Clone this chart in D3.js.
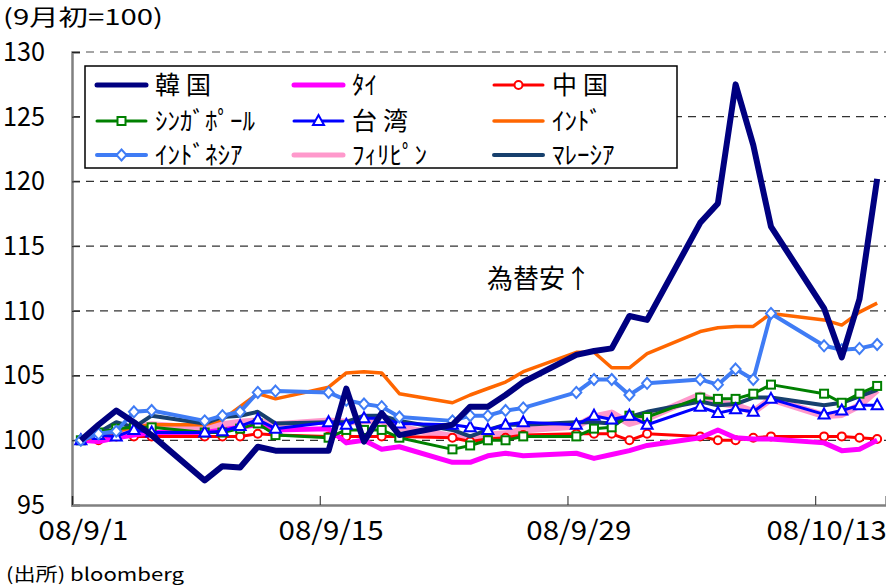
<!DOCTYPE html>
<html>
<head>
<meta charset="utf-8">
<script src="https://cdn.jsdelivr.net/npm/d3@7"></script>
<style>
  body { margin: 0; background: #fff; }
  svg { display: block; }
  text { font-family: "Noto Sans CJK JP", "DejaVu Sans", sans-serif; fill: #000; }
</style>
</head>
<body>
<svg id="chart" width="886" height="587"></svg>
<script>
// trading days, Sep 1 - Oct 16 2008
const dates = [
  "2008-09-01", "2008-09-02", "2008-09-03", "2008-09-04", "2008-09-05",
  "2008-09-08", "2008-09-09", "2008-09-10", "2008-09-11", "2008-09-12",
  "2008-09-15", "2008-09-16", "2008-09-17", "2008-09-18", "2008-09-19",
  "2008-09-22", "2008-09-23", "2008-09-24", "2008-09-25", "2008-09-26",
  "2008-09-29", "2008-09-30", "2008-10-01", "2008-10-02", "2008-10-03",
  "2008-10-06", "2008-10-07", "2008-10-08", "2008-10-09", "2008-10-10",
  "2008-10-13", "2008-10-14", "2008-10-15", "2008-10-16"
];

const korea = [100, 101.2, 102.3, 101.4, 100.4, 96.9, 98.0, 97.9, 99.5, 99.2,
  99.2, 104.0, 99.9, 102.1, 100.4, 101.2, 102.6, 102.6, 103.5, 104.5,
  106.6, 106.9, 107.1, 109.6, 109.3, 116.8, 118.3, 127.5, 122.8, 116.5,
  110.2, 106.4, 110.9, 120.2];
const thai = [100, 99.9, 100.2, 100.4, 100.6, 100.6, 100.8, 101.0, 101.2, 100.8,
  100.9, 99.8, 100.0, 99.3, 99.5, 98.3, 98.3, 98.8, 99.0, 98.8,
  99.0, 98.6, 98.9, 99.2, 99.6, 100.2, 100.8, 100.2, 100.1, 100.1,
  99.8, 99.2, 99.3, 100.0];
const china = [100, 100.0, 100.3, 100.3, 100.3, 100.3, 100.3, 100.3, 100.5, 100.4,
  100.3, 100.3, 100.3, 100.3, 100.3, 100.2, 99.9, 100.1, 100.2, 100.4,
  100.5, 100.5, 100.5, 100.0, 100.5, 100.3, 100.0, 100.0, 100.2, 100.3,
  100.3, 100.3, 100.2, 100.1];
const singapore = [100, 100.6, 100.9, 101.0, 101.0, 100.6, 100.6, 100.9, 101.3, 100.4,
  100.2, 100.8, 100.8, 100.8, 100.2, 99.3, 99.6, 100.0, 100.0, 100.3,
  100.3, 100.9, 101.0, 101.9, 101.8, 103.3, 103.2, 103.2, 103.6, 104.3,
  103.6, 102.9, 103.6, 104.2];
const taiwan = [100, 100.4, 100.3, 100.8, 100.6, 100.6, 100.7, 101.1, 101.6, 100.9,
  101.4, 101.2, 101.7, 101.7, 101.3, 101.2, 101.0, 100.8, 101.2, 101.4,
  101.2, 101.9, 101.6, 101.9, 101.2, 102.6, 102.1, 102.4, 102.2, 103.2,
  102.0, 102.3, 102.7, 102.7];
const india = [100, 100.3, 100.7, 101.0, 101.2, 101.2, 101.6, 102.6, 103.6, 103.2,
  104.1, 105.2, 105.3, 105.2, 103.6, 102.9, 103.5, 104.0, 104.5, 105.3,
  106.8, 106.8, 105.6, 105.6, 106.7, 108.4, 108.7, 108.8, 108.8, 109.8,
  109.3, 108.9, 109.9, 110.6];
const indonesia = [100, 100.5, 100.7, 102.2, 102.3, 101.5, 101.9, 102.2, 103.7, 103.8,
  103.7, 103.1, 102.8, 102.6, 101.8, 101.5, 101.9, 101.9, 102.3, 102.5,
  103.7, 104.7, 104.7, 103.5, 104.4, 104.7, 104.3, 105.5, 104.7, 109.8,
  107.3, 107.0, 107.1, 107.4];
const philippines = [100, 100.2, 100.6, 101.0, 101.2, 100.9, 101.2, 101.4, 101.5, 101.2,
  101.5, 101.4, 101.5, 101.5, 101.0, 100.3, 100.2, 100.4, 100.5, 100.8,
  101.1, 101.8, 102.1, 101.3, 101.7, 103.5, 102.9, 102.7, 102.2, 103.2,
  101.9, 102.0, 102.7, 103.9];
const malaysia = [100, 100.6, 101.4, 101.0, 101.9, 101.3, 101.8, 101.9, 102.2, 101.3,
  101.4, 101.4, 101.9, 101.9, 101.5, 100.8, 100.3, 100.8, 101.2, 101.2,
  101.4, 101.4, 101.3, 101.8, 102.2, 103.0, 102.7, 102.8, 103.3, 103.3,
  102.7, 102.9, 103.4, 103.9];

const yTicks = [95, 100, 105, 110, 115, 120, 125, 130];
const xTickDates = ["2008-09-01", "2008-09-15", "2008-09-29", "2008-10-13"];
const xTickLabels = ["08/9/1", "08/9/15", "08/9/29", "08/10/13"];

// legend order (row by row, as in the reference)
const series = [
  { name: "韓国", values: korea, color: "#000080", width: 6, marker: null },
  { name: "ﾀｲ", values: thai, color: "#ff00ff", width: 5, marker: null },
  { name: "中国", values: china, color: "#ff0000", width: 3, marker: "circle" },
  { name: "ｼﾝｶﾞﾎﾟｰﾙ", values: singapore, color: "#008000", width: 3, marker: "square" },
  { name: "台湾", values: taiwan, color: "#0000ff", width: 3, marker: "triangle" },
  { name: "ｲﾝﾄﾞ", values: india, color: "#ff6600", width: 3.5, marker: null },
  { name: "ｲﾝﾄﾞﾈｼｱ", values: indonesia, color: "#3f7cf5", width: 4, marker: "diamond" },
  { name: "ﾌｨﾘﾋﾟﾝ", values: philippines, color: "#ff99cc", width: 7, marker: null },
  { name: "ﾏﾚｰｼｱ", values: malaysia, color: "#17406d", width: 4, marker: null }
];
// drawing order, bottom to top
const drawOrder = ["ﾌｨﾘﾋﾟﾝ", "中国", "ﾀｲ", "ｲﾝﾄﾞ", "ﾏﾚｰｼｱ", "ｼﾝｶﾞﾎﾟｰﾙ", "台湾", "ｲﾝﾄﾞﾈｼｱ", "韓国"];

const parse = d3.utcParse("%Y-%m-%d");
const svg = d3.select("#chart");

const plotLeft = 72, plotRight = 886, plotTop = 52, plotBottom = 505;

const x = d3.scaleUtc()
  .domain([parse("2008-09-01"), parse("2008-10-17")])
  .range([plotLeft, plotRight]);
const y = d3.scaleLinear().domain([95, 130]).range([plotBottom, plotTop]);

// points sit in the middle of their day
const px = (d) => x(d3.utcHour.offset(parse(d), 12));
const halfDay = (x(parse("2008-09-02")) - x(parse("2008-09-01"))) / 2;

// dashed gridlines
svg.append("g")
  .selectAll("line")
  .data(yTicks.filter((t) => t > 95))
  .join("line")
  .attr("x1", plotLeft)
  .attr("x2", plotRight)
  .attr("y1", (d) => y(d))
  .attr("y2", (d) => y(d))
  .attr("stroke", (d) => (d === 130 ? "#888" : "#333"))
  .attr("stroke-width", 1.3)
  .attr("stroke-dasharray", "8,6");

// y axis
const yAxis = svg.append("g")
  .attr("transform", `translate(${plotLeft},0)`)
  .call(d3.axisLeft(y).tickValues(yTicks).tickSize(-8).tickPadding(27));
yAxis.select(".domain").attr("stroke", "#808080").attr("stroke-width", 2.5);
yAxis.selectAll(".tick line").attr("stroke", "#222");
yAxis.selectAll(".tick text")
  .attr("font-size", 26)
  .attr("fill", "#000")
  .attr("textLength", (d) => String(d).length * 14)
  .attr("lengthAdjust", "spacingAndGlyphs");

// x axis
const xAxis = svg.append("g")
  .attr("transform", `translate(0,${plotBottom})`)
  .call(
    d3.axisBottom(x)
      .tickValues(xTickDates.map(parse))
      .tickSize(-9)
      .tickPadding(16)
      .tickFormat((d, i) => xTickLabels[i])
  );
xAxis.select(".domain").attr("stroke", "#808080").attr("stroke-width", 2.5);
xAxis.selectAll(".tick line").attr("stroke", "#222");
xAxis.selectAll(".tick text")
  .attr("x", halfDay + 2)
  .attr("font-size", 27)
  .attr("fill", "#000")
  .attr("textLength", (d, i) => xTickLabels[i].length * 15)
  .attr("lengthAdjust", "spacingAndGlyphs");

// markers
function drawMarker(g, type, color) {
  if (type === "circle") {
    g.append("circle").attr("r", 4).attr("fill", "#fff")
      .attr("stroke", color).attr("stroke-width", 2);
  } else if (type === "square") {
    g.append("rect").attr("x", -4).attr("y", -4).attr("width", 8).attr("height", 8)
      .attr("fill", "#fff").attr("stroke", color).attr("stroke-width", 2);
  } else if (type === "triangle") {
    g.append("path").attr("d", "M0,-6L5.5,4L-5.5,4Z").attr("fill", "#fff")
      .attr("stroke", color).attr("stroke-width", 2);
  } else if (type === "diamond") {
    g.append("path").attr("d", "M0,-5.5L5,0L0,5.5L-5,0Z").attr("fill", "#fff")
      .attr("stroke", color).attr("stroke-width", 2);
  }
}

const line = d3.line()
  .defined((d) => d.v != null)
  .x((d) => px(d.date))
  .y((d) => y(d.v));

const plot = svg.append("g");
drawOrder.forEach((name) => {
  const s = series.find((e) => e.name === name);
  const pts = dates.map((date, i) => ({ date, v: s.values[i] }));
  const g = plot.append("g");
  g.append("path")
    .datum(pts)
    .attr("d", line)
    .attr("fill", "none")
    .attr("stroke", s.color)
    .attr("stroke-width", s.width)
    .attr("stroke-linejoin", "round");
  if (s.marker) {
    g.selectAll(".mk")
      .data(pts.filter((p) => p.v != null))
      .join("g")
      .attr("class", "mk")
      .attr("transform", (p) => `translate(${px(p.date)},${y(p.v)})`)
      .each(function () { drawMarker(d3.select(this), s.marker, s.color); });
  }
});

// legend
const legend = svg.append("g");
legend.append("rect")
  .attr("x", 85).attr("y", 66).attr("width", 592).attr("height", 102)
  .attr("fill", "#fff").attr("stroke", "#000").attr("stroke-width", 1.5);
const colX = [97, 294, 494];
const rowY = [85, 121, 155];
series.forEach((s, i) => {
  const cx = colX[i % 3], cy = rowY[Math.floor(i / 3)];
  const g = legend.append("g").attr("transform", `translate(${cx},${cy})`);
  g.append("line")
    .attr("x1", 0).attr("x2", 49).attr("y1", 0).attr("y2", 0)
    .attr("stroke", s.color)
    .attr("stroke-width", Math.min(s.width, 5))
    .attr("stroke-linecap", "round");
  if (s.marker) {
    const m = g.append("g").attr("transform", "translate(24.5,0)");
    drawMarker(m, s.marker, s.color);
  }
  g.append("text")
    .attr("x", 58)
    .attr("y", 0)
    .attr("dy", "0.36em")
    .attr("font-size", 25)
    .attr("textLength", s.name.length === 2 && /[^\uff00-\uffef]/.test(s.name) ? 56 : null)
    .text(s.name);
});

// titles and notes
svg.append("text")
  .attr("x", 3).attr("y", 25)
  .attr("font-size", 22)
  .attr("textLength", 160).attr("lengthAdjust", "spacingAndGlyphs")
  .text("(9月初=100)");

svg.append("text")
  .attr("x", 487).attr("y", 288)
  .attr("font-size", 26)
  .text("為替安↑");

svg.append("text")
  .attr("x", 6).attr("y", 581)
  .attr("font-size", 18)
  .attr("textLength", 178).attr("lengthAdjust", "spacingAndGlyphs")
  .text("(出所) bloomberg");
</script>
</body>
</html>
